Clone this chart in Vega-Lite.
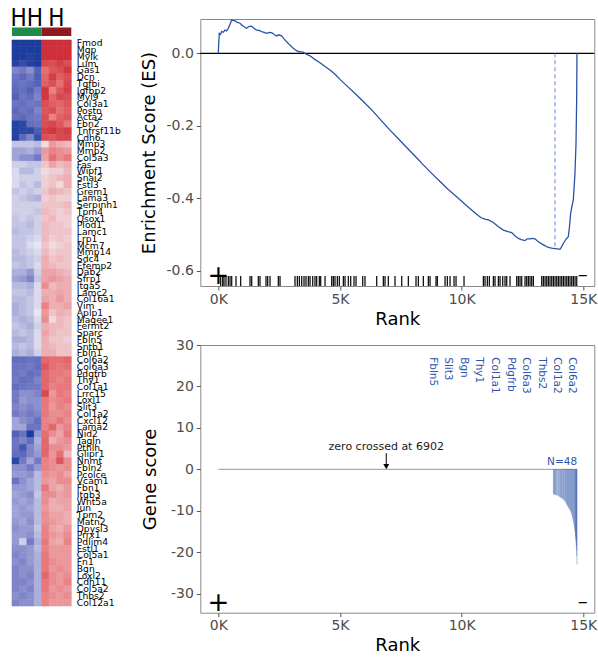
{
"$schema":"https://vega.github.io/schema/vega-lite/v6.json",
"padding":{"left":10,"top":6,"right":2,"bottom":4},
"bounds":"flush",
"spacing":188.3,
"config":{"font":"DejaVu Sans","axis":{"labelFont":"DejaVu Sans","titleFont":"DejaVu Sans","labelFontSize":14,"titleFontSize":18,"titleFontWeight":"normal","labelColor":"#4d4d4d","titleColor":"#000","tickColor":"#555","tickSize":4,"domain":false,"grid":false,"labelPadding":3},"view":{"stroke":"#8a8a8a"}},
"hconcat":[
{"vconcat":[
{"width":59.3,"height":17,"view":{"stroke":null},
"data":{"values":[{"grp":"HH","col":"g"},{"grp":"H","col":"r"}]},
"layer":[
{"mark":{"type":"rect"},"encoding":{"x":{"field":"grp","type":"nominal","scale":{"domain":["HH","H"],"paddingInner":0,"paddingOuter":0},"axis":null},"y":{"datum":"b","type":"nominal","scale":{"domain":["t","b"],"paddingInner":0,"paddingOuter":0},"axis":null},"color":{"field":"col","type":"nominal","scale":{"domain":["g","r"],"range":["#1f8a4a","#8c1a1e"]},"legend":null}}},
{"mark":{"type":"text","baseline":"alphabetic","fontSize":24,"font":"Liberation Sans Narrow, DejaVu Sans Condensed, sans-serif","dy":-2,"color":"#000"},"encoding":{"x":{"field":"grp","type":"nominal"},"y":{"datum":"b","type":"nominal","bandPosition":0},"text":{"field":"grp"}}}
]},
{"width":59.3,"height":566,"view":{"stroke":null},
"data":{"values":[
{"g":"Fmod","c":1,"v":-2.2},{"g":"Fmod","c":2,"v":-2.2},{"g":"Fmod","c":3,"v":-2.2},{"g":"Fmod","c":4,"v":-2.2},{"g":"Fmod","c":5,"v":2.0},{"g":"Fmod","c":6,"v":2.0},{"g":"Fmod","c":7,"v":2.0},{"g":"Fmod","c":8,"v":2.0},
{"g":"Mgp","c":1,"v":-2.2},{"g":"Mgp","c":2,"v":-2.2},{"g":"Mgp","c":3,"v":-2.2},{"g":"Mgp","c":4,"v":-2.2},{"g":"Mgp","c":5,"v":2.0},{"g":"Mgp","c":6,"v":2.0},{"g":"Mgp","c":7,"v":2.0},{"g":"Mgp","c":8,"v":2.0},
{"g":"Mylk","c":1,"v":-2.2},{"g":"Mylk","c":2,"v":-2.2},{"g":"Mylk","c":3,"v":-2.1},{"g":"Mylk","c":4,"v":-2.2},{"g":"Mylk","c":5,"v":2.0},{"g":"Mylk","c":6,"v":2.0},{"g":"Mylk","c":7,"v":2.0},{"g":"Mylk","c":8,"v":2.0},
{"g":"Lum","c":1,"v":-2.1},{"g":"Lum","c":2,"v":-1.9},{"g":"Lum","c":3,"v":-2.1},{"g":"Lum","c":4,"v":-2.2},{"g":"Lum","c":5,"v":1.7},{"g":"Lum","c":6,"v":1.6},{"g":"Lum","c":7,"v":1.8},{"g":"Lum","c":8,"v":1.6},
{"g":"Gas1","c":1,"v":-1.0},{"g":"Gas1","c":2,"v":-1.1},{"g":"Gas1","c":3,"v":-0.9},{"g":"Gas1","c":4,"v":-1.5},{"g":"Gas1","c":5,"v":1.2},{"g":"Gas1","c":6,"v":1.5},{"g":"Gas1","c":7,"v":1.6},{"g":"Gas1","c":8,"v":1.9},
{"g":"Dcn","c":1,"v":-1.2},{"g":"Dcn","c":2,"v":-1.4},{"g":"Dcn","c":3,"v":-1.1},{"g":"Dcn","c":4,"v":-1.6},{"g":"Dcn","c":5,"v":1.3},{"g":"Dcn","c":6,"v":1.8},{"g":"Dcn","c":7,"v":1.4},{"g":"Dcn","c":8,"v":1.6},
{"g":"Tgfbi","c":1,"v":-1.3},{"g":"Tgfbi","c":2,"v":-1.2},{"g":"Tgfbi","c":3,"v":-1.3},{"g":"Tgfbi","c":4,"v":-1.5},{"g":"Tgfbi","c":5,"v":1.4},{"g":"Tgfbi","c":6,"v":1.6},{"g":"Tgfbi","c":7,"v":1.2},{"g":"Tgfbi","c":8,"v":1.7},
{"g":"Igfbp2","c":1,"v":-1.4},{"g":"Igfbp2","c":2,"v":-1.3},{"g":"Igfbp2","c":3,"v":-1.5},{"g":"Igfbp2","c":4,"v":-1.1},{"g":"Igfbp2","c":5,"v":1.9},{"g":"Igfbp2","c":6,"v":1.0},{"g":"Igfbp2","c":7,"v":1.5},{"g":"Igfbp2","c":8,"v":1.8},
{"g":"Myl9","c":1,"v":-1.5},{"g":"Myl9","c":2,"v":-1.2},{"g":"Myl9","c":3,"v":-1.3},{"g":"Myl9","c":4,"v":-1.0},{"g":"Myl9","c":5,"v":1.9},{"g":"Myl9","c":6,"v":1.3},{"g":"Myl9","c":7,"v":1.7},{"g":"Myl9","c":8,"v":1.6},
{"g":"Col3a1","c":1,"v":-1.2},{"g":"Col3a1","c":2,"v":-1.3},{"g":"Col3a1","c":3,"v":-1.1},{"g":"Col3a1","c":4,"v":-1.2},{"g":"Col3a1","c":5,"v":1.6},{"g":"Col3a1","c":6,"v":1.4},{"g":"Col3a1","c":7,"v":1.3},{"g":"Col3a1","c":8,"v":1.5},
{"g":"Postn","c":1,"v":-1.4},{"g":"Postn","c":2,"v":-1.2},{"g":"Postn","c":3,"v":-1.3},{"g":"Postn","c":4,"v":-1.0},{"g":"Postn","c":5,"v":1.5},{"g":"Postn","c":6,"v":1.6},{"g":"Postn","c":7,"v":1.2},{"g":"Postn","c":8,"v":1.4},
{"g":"Acta2","c":1,"v":-1.3},{"g":"Acta2","c":2,"v":-1.4},{"g":"Acta2","c":3,"v":-1.2},{"g":"Acta2","c":4,"v":-1.1},{"g":"Acta2","c":5,"v":1.6},{"g":"Acta2","c":6,"v":1.0},{"g":"Acta2","c":7,"v":1.4},{"g":"Acta2","c":8,"v":1.5},
{"g":"Fbn2","c":1,"v":-2.1},{"g":"Fbn2","c":2,"v":-2.0},{"g":"Fbn2","c":3,"v":-1.3},{"g":"Fbn2","c":4,"v":-1.2},{"g":"Fbn2","c":5,"v":1.6},{"g":"Fbn2","c":6,"v":1.7},{"g":"Fbn2","c":7,"v":1.5},{"g":"Fbn2","c":8,"v":1.1},
{"g":"Tnfrsf11b","c":1,"v":-2.1},{"g":"Tnfrsf11b","c":2,"v":-2.0},{"g":"Tnfrsf11b","c":3,"v":-2.0},{"g":"Tnfrsf11b","c":4,"v":-1.6},{"g":"Tnfrsf11b","c":5,"v":1.8},{"g":"Tnfrsf11b","c":6,"v":1.9},{"g":"Tnfrsf11b","c":7,"v":1.7},{"g":"Tnfrsf11b","c":8,"v":1.8},
{"g":"Cdh6","c":1,"v":-2.1},{"g":"Cdh6","c":2,"v":-1.4},{"g":"Cdh6","c":3,"v":-1.0},{"g":"Cdh6","c":4,"v":-1.9},{"g":"Cdh6","c":5,"v":1.6},{"g":"Cdh6","c":6,"v":1.5},{"g":"Cdh6","c":7,"v":1.7},{"g":"Cdh6","c":8,"v":1.7},
{"g":"Mmp3","c":1,"v":-0.4},{"g":"Mmp3","c":2,"v":-0.4},{"g":"Mmp3","c":3,"v":-0.4},{"g":"Mmp3","c":4,"v":-0.5},{"g":"Mmp3","c":5,"v":0.2},{"g":"Mmp3","c":6,"v":0.8},{"g":"Mmp3","c":7,"v":0.6},{"g":"Mmp3","c":8,"v":0.5},
{"g":"Mmp2","c":1,"v":-0.7},{"g":"Mmp2","c":2,"v":-0.7},{"g":"Mmp2","c":3,"v":-0.6},{"g":"Mmp2","c":4,"v":-0.8},{"g":"Mmp2","c":5,"v":0.8},{"g":"Mmp2","c":6,"v":1.0},{"g":"Mmp2","c":7,"v":0.9},{"g":"Mmp2","c":8,"v":0.8},
{"g":"Col5a3","c":1,"v":-0.7},{"g":"Col5a3","c":2,"v":-0.9},{"g":"Col5a3","c":3,"v":-0.9},{"g":"Col5a3","c":4,"v":-1.1},{"g":"Col5a3","c":5,"v":0.7},{"g":"Col5a3","c":6,"v":1.2},{"g":"Col5a3","c":7,"v":0.9},{"g":"Col5a3","c":8,"v":1.1},
{"g":"Fas","c":1,"v":-0.3},{"g":"Fas","c":2,"v":-0.3},{"g":"Fas","c":3,"v":-0.4},{"g":"Fas","c":4,"v":-0.4},{"g":"Fas","c":5,"v":0.4},{"g":"Fas","c":6,"v":0.7},{"g":"Fas","c":7,"v":0.5},{"g":"Fas","c":8,"v":0.6},
{"g":"Wipf1","c":1,"v":-0.2},{"g":"Wipf1","c":2,"v":-0.5},{"g":"Wipf1","c":3,"v":-0.5},{"g":"Wipf1","c":4,"v":-0.3},{"g":"Wipf1","c":5,"v":0.2},{"g":"Wipf1","c":6,"v":0.3},{"g":"Wipf1","c":7,"v":0.3},{"g":"Wipf1","c":8,"v":0.5},
{"g":"Snai2","c":1,"v":-0.2},{"g":"Snai2","c":2,"v":-0.3},{"g":"Snai2","c":3,"v":-0.3},{"g":"Snai2","c":4,"v":-0.3},{"g":"Snai2","c":5,"v":0.3},{"g":"Snai2","c":6,"v":0.4},{"g":"Snai2","c":7,"v":0.5},{"g":"Snai2","c":8,"v":0.6},
{"g":"Fstl3","c":1,"v":-0.2},{"g":"Fstl3","c":2,"v":-0.4},{"g":"Fstl3","c":3,"v":-0.3},{"g":"Fstl3","c":4,"v":-0.5},{"g":"Fstl3","c":5,"v":0.3},{"g":"Fstl3","c":6,"v":0.4},{"g":"Fstl3","c":7,"v":0.2},{"g":"Fstl3","c":8,"v":0.6},
{"g":"Grem1","c":1,"v":-0.4},{"g":"Grem1","c":2,"v":-0.3},{"g":"Grem1","c":3,"v":-0.4},{"g":"Grem1","c":4,"v":-0.3},{"g":"Grem1","c":5,"v":0.4},{"g":"Grem1","c":6,"v":0.6},{"g":"Grem1","c":7,"v":0.5},{"g":"Grem1","c":8,"v":0.4},
{"g":"Lama3","c":1,"v":-0.3},{"g":"Lama3","c":2,"v":-0.4},{"g":"Lama3","c":3,"v":-0.5},{"g":"Lama3","c":4,"v":-0.6},{"g":"Lama3","c":5,"v":0.3},{"g":"Lama3","c":6,"v":0.4},{"g":"Lama3","c":7,"v":0.3},{"g":"Lama3","c":8,"v":0.3},
{"g":"Serpinh1","c":1,"v":-0.3},{"g":"Serpinh1","c":2,"v":-0.3},{"g":"Serpinh1","c":3,"v":-0.3},{"g":"Serpinh1","c":4,"v":-0.3},{"g":"Serpinh1","c":5,"v":0.4},{"g":"Serpinh1","c":6,"v":0.4},{"g":"Serpinh1","c":7,"v":0.4},{"g":"Serpinh1","c":8,"v":0.5},
{"g":"Tpm4","c":1,"v":-0.3},{"g":"Tpm4","c":2,"v":-0.3},{"g":"Tpm4","c":3,"v":-0.3},{"g":"Tpm4","c":4,"v":-0.4},{"g":"Tpm4","c":5,"v":0.5},{"g":"Tpm4","c":6,"v":0.4},{"g":"Tpm4","c":7,"v":0.3},{"g":"Tpm4","c":8,"v":0.4},
{"g":"Qsox1","c":1,"v":-0.4},{"g":"Qsox1","c":2,"v":-0.3},{"g":"Qsox1","c":3,"v":-0.4},{"g":"Qsox1","c":4,"v":-0.3},{"g":"Qsox1","c":5,"v":0.4},{"g":"Qsox1","c":6,"v":0.5},{"g":"Qsox1","c":7,"v":0.3},{"g":"Qsox1","c":8,"v":0.3},
{"g":"Plod1","c":1,"v":-0.4},{"g":"Plod1","c":2,"v":-0.4},{"g":"Plod1","c":3,"v":-0.5},{"g":"Plod1","c":4,"v":-0.3},{"g":"Plod1","c":5,"v":0.5},{"g":"Plod1","c":6,"v":0.4},{"g":"Plod1","c":7,"v":0.4},{"g":"Plod1","c":8,"v":0.3},
{"g":"Lamc1","c":1,"v":-0.5},{"g":"Lamc1","c":2,"v":-0.4},{"g":"Lamc1","c":3,"v":-0.4},{"g":"Lamc1","c":4,"v":-0.3},{"g":"Lamc1","c":5,"v":0.5},{"g":"Lamc1","c":6,"v":0.4},{"g":"Lamc1","c":7,"v":0.4},{"g":"Lamc1","c":8,"v":0.4},
{"g":"Lrp1","c":1,"v":-0.4},{"g":"Lrp1","c":2,"v":-0.4},{"g":"Lrp1","c":3,"v":-0.3},{"g":"Lrp1","c":4,"v":-0.2},{"g":"Lrp1","c":5,"v":0.5},{"g":"Lrp1","c":6,"v":0.3},{"g":"Lrp1","c":7,"v":0.4},{"g":"Lrp1","c":8,"v":0.3},
{"g":"Mcm7","c":1,"v":-0.4},{"g":"Mcm7","c":2,"v":-0.4},{"g":"Mcm7","c":3,"v":-0.2},{"g":"Mcm7","c":4,"v":-0.1},{"g":"Mcm7","c":5,"v":0.4},{"g":"Mcm7","c":6,"v":0.2},{"g":"Mcm7","c":7,"v":0.3},{"g":"Mcm7","c":8,"v":0.4},
{"g":"Mmp14","c":1,"v":-0.5},{"g":"Mmp14","c":2,"v":-0.4},{"g":"Mmp14","c":3,"v":-0.3},{"g":"Mmp14","c":4,"v":-0.2},{"g":"Mmp14","c":5,"v":0.5},{"g":"Mmp14","c":6,"v":0.3},{"g":"Mmp14","c":7,"v":0.4},{"g":"Mmp14","c":8,"v":0.4},
{"g":"Sdc4","c":1,"v":-0.5},{"g":"Sdc4","c":2,"v":-0.5},{"g":"Sdc4","c":3,"v":-0.4},{"g":"Sdc4","c":4,"v":-0.3},{"g":"Sdc4","c":5,"v":0.6},{"g":"Sdc4","c":6,"v":0.4},{"g":"Sdc4","c":7,"v":0.5},{"g":"Sdc4","c":8,"v":0.4},
{"g":"Efemp2","c":1,"v":-0.4},{"g":"Efemp2","c":2,"v":-0.5},{"g":"Efemp2","c":3,"v":-0.4},{"g":"Efemp2","c":4,"v":-0.2},{"g":"Efemp2","c":5,"v":0.6},{"g":"Efemp2","c":6,"v":0.5},{"g":"Efemp2","c":7,"v":0.4},{"g":"Efemp2","c":8,"v":0.4},
{"g":"Dab2","c":1,"v":-0.6},{"g":"Dab2","c":2,"v":-0.6},{"g":"Dab2","c":3,"v":-0.8},{"g":"Dab2","c":4,"v":-0.3},{"g":"Dab2","c":5,"v":0.7},{"g":"Dab2","c":6,"v":0.7},{"g":"Dab2","c":7,"v":0.6},{"g":"Dab2","c":8,"v":0.5},
{"g":"Sfrp1","c":1,"v":-0.7},{"g":"Sfrp1","c":2,"v":-0.8},{"g":"Sfrp1","c":3,"v":-1.0},{"g":"Sfrp1","c":4,"v":-0.4},{"g":"Sfrp1","c":5,"v":0.7},{"g":"Sfrp1","c":6,"v":0.8},{"g":"Sfrp1","c":7,"v":0.7},{"g":"Sfrp1","c":8,"v":0.6},
{"g":"Itga5","c":1,"v":-0.5},{"g":"Itga5","c":2,"v":-0.5},{"g":"Itga5","c":3,"v":-0.6},{"g":"Itga5","c":4,"v":-0.2},{"g":"Itga5","c":5,"v":0.9},{"g":"Itga5","c":6,"v":0.5},{"g":"Itga5","c":7,"v":0.6},{"g":"Itga5","c":8,"v":0.6},
{"g":"Lamc2","c":1,"v":-0.4},{"g":"Lamc2","c":2,"v":-0.4},{"g":"Lamc2","c":3,"v":-0.5},{"g":"Lamc2","c":4,"v":-0.2},{"g":"Lamc2","c":5,"v":0.6},{"g":"Lamc2","c":6,"v":0.6},{"g":"Lamc2","c":7,"v":0.7},{"g":"Lamc2","c":8,"v":0.6},
{"g":"Col16a1","c":1,"v":-0.5},{"g":"Col16a1","c":2,"v":-0.5},{"g":"Col16a1","c":3,"v":-0.4},{"g":"Col16a1","c":4,"v":-0.2},{"g":"Col16a1","c":5,"v":0.7},{"g":"Col16a1","c":6,"v":0.6},{"g":"Col16a1","c":7,"v":0.8},{"g":"Col16a1","c":8,"v":0.6},
{"g":"Vim","c":1,"v":-0.6},{"g":"Vim","c":2,"v":-0.5},{"g":"Vim","c":3,"v":-0.4},{"g":"Vim","c":4,"v":-0.2},{"g":"Vim","c":5,"v":1.0},{"g":"Vim","c":6,"v":0.6},{"g":"Vim","c":7,"v":0.6},{"g":"Vim","c":8,"v":0.7},
{"g":"Aplp1","c":1,"v":-0.6},{"g":"Aplp1","c":2,"v":-0.5},{"g":"Aplp1","c":3,"v":-0.4},{"g":"Aplp1","c":4,"v":-0.1},{"g":"Aplp1","c":5,"v":0.8},{"g":"Aplp1","c":6,"v":0.4},{"g":"Aplp1","c":7,"v":0.6},{"g":"Aplp1","c":8,"v":0.5},
{"g":"Magee1","c":1,"v":-0.5},{"g":"Magee1","c":2,"v":-0.6},{"g":"Magee1","c":3,"v":-0.5},{"g":"Magee1","c":4,"v":-0.2},{"g":"Magee1","c":5,"v":0.9},{"g":"Magee1","c":6,"v":0.2},{"g":"Magee1","c":7,"v":0.5},{"g":"Magee1","c":8,"v":0.4},
{"g":"Fermt2","c":1,"v":-0.4},{"g":"Fermt2","c":2,"v":-0.5},{"g":"Fermt2","c":3,"v":-0.6},{"g":"Fermt2","c":4,"v":-0.3},{"g":"Fermt2","c":5,"v":0.6},{"g":"Fermt2","c":6,"v":0.5},{"g":"Fermt2","c":7,"v":0.5},{"g":"Fermt2","c":8,"v":0.4},
{"g":"Sparc","c":1,"v":-0.5},{"g":"Sparc","c":2,"v":-0.4},{"g":"Sparc","c":3,"v":-0.5},{"g":"Sparc","c":4,"v":-0.2},{"g":"Sparc","c":5,"v":0.7},{"g":"Sparc","c":6,"v":0.5},{"g":"Sparc","c":7,"v":0.4},{"g":"Sparc","c":8,"v":0.4},
{"g":"Fbln5","c":1,"v":-0.6},{"g":"Fbln5","c":2,"v":-0.6},{"g":"Fbln5","c":3,"v":-0.5},{"g":"Fbln5","c":4,"v":-0.2},{"g":"Fbln5","c":5,"v":0.6},{"g":"Fbln5","c":6,"v":0.4},{"g":"Fbln5","c":7,"v":0.4},{"g":"Fbln5","c":8,"v":0.3},
{"g":"Sntb1","c":1,"v":-0.5},{"g":"Sntb1","c":2,"v":-0.4},{"g":"Sntb1","c":3,"v":-0.5},{"g":"Sntb1","c":4,"v":-0.2},{"g":"Sntb1","c":5,"v":0.6},{"g":"Sntb1","c":6,"v":0.5},{"g":"Sntb1","c":7,"v":0.4},{"g":"Sntb1","c":8,"v":0.4},
{"g":"Fbln1","c":1,"v":-0.6},{"g":"Fbln1","c":2,"v":-0.5},{"g":"Fbln1","c":3,"v":-0.6},{"g":"Fbln1","c":4,"v":-0.3},{"g":"Fbln1","c":5,"v":0.6},{"g":"Fbln1","c":6,"v":0.6},{"g":"Fbln1","c":7,"v":0.4},{"g":"Fbln1","c":8,"v":0.4},
{"g":"Col6a2","c":1,"v":-1.3},{"g":"Col6a2","c":2,"v":-1.3},{"g":"Col6a2","c":3,"v":-1.2},{"g":"Col6a2","c":4,"v":-1.3},{"g":"Col6a2","c":5,"v":1.3},{"g":"Col6a2","c":6,"v":1.2},{"g":"Col6a2","c":7,"v":1.2},{"g":"Col6a2","c":8,"v":1.3},
{"g":"Col6a3","c":1,"v":-1.2},{"g":"Col6a3","c":2,"v":-1.2},{"g":"Col6a3","c":3,"v":-1.1},{"g":"Col6a3","c":4,"v":-1.3},{"g":"Col6a3","c":5,"v":1.5},{"g":"Col6a3","c":6,"v":1.2},{"g":"Col6a3","c":7,"v":1.1},{"g":"Col6a3","c":8,"v":1.2},
{"g":"Pdgfrb","c":1,"v":-1.2},{"g":"Pdgfrb","c":2,"v":-1.1},{"g":"Pdgfrb","c":3,"v":-1.3},{"g":"Pdgfrb","c":4,"v":-1.2},{"g":"Pdgfrb","c":5,"v":1.3},{"g":"Pdgfrb","c":6,"v":1.1},{"g":"Pdgfrb","c":7,"v":1.1},{"g":"Pdgfrb","c":8,"v":1.0},
{"g":"Thy1","c":1,"v":-1.1},{"g":"Thy1","c":2,"v":-1.3},{"g":"Thy1","c":3,"v":-1.2},{"g":"Thy1","c":4,"v":-1.0},{"g":"Thy1","c":5,"v":1.3},{"g":"Thy1","c":6,"v":1.1},{"g":"Thy1","c":7,"v":1.0},{"g":"Thy1","c":8,"v":1.1},
{"g":"Col1a1","c":1,"v":-1.3},{"g":"Col1a1","c":2,"v":-1.2},{"g":"Col1a1","c":3,"v":-1.1},{"g":"Col1a1","c":4,"v":-1.1},{"g":"Col1a1","c":5,"v":1.3},{"g":"Col1a1","c":6,"v":1.0},{"g":"Col1a1","c":7,"v":1.1},{"g":"Col1a1","c":8,"v":1.1},
{"g":"Lrrc15","c":1,"v":-1.1},{"g":"Lrrc15","c":2,"v":-0.9},{"g":"Lrrc15","c":3,"v":-0.9},{"g":"Lrrc15","c":4,"v":-1.0},{"g":"Lrrc15","c":5,"v":1.7},{"g":"Lrrc15","c":6,"v":0.8},{"g":"Lrrc15","c":7,"v":1.1},{"g":"Lrrc15","c":8,"v":1.0},
{"g":"Loxl1","c":1,"v":-1.1},{"g":"Loxl1","c":2,"v":-0.8},{"g":"Loxl1","c":3,"v":-0.9},{"g":"Loxl1","c":4,"v":-0.9},{"g":"Loxl1","c":5,"v":1.1},{"g":"Loxl1","c":6,"v":0.9},{"g":"Loxl1","c":7,"v":1.0},{"g":"Loxl1","c":8,"v":1.1},
{"g":"Slit3","c":1,"v":-1.0},{"g":"Slit3","c":2,"v":-0.9},{"g":"Slit3","c":3,"v":-1.0},{"g":"Slit3","c":4,"v":-0.9},{"g":"Slit3","c":5,"v":1.1},{"g":"Slit3","c":6,"v":0.8},{"g":"Slit3","c":7,"v":1.0},{"g":"Slit3","c":8,"v":0.9},
{"g":"Col1a2","c":1,"v":-1.1},{"g":"Col1a2","c":2,"v":-1.0},{"g":"Col1a2","c":3,"v":-1.1},{"g":"Col1a2","c":4,"v":-1.0},{"g":"Col1a2","c":5,"v":1.1},{"g":"Col1a2","c":6,"v":0.9},{"g":"Col1a2","c":7,"v":0.9},{"g":"Col1a2","c":8,"v":1.0},
{"g":"Cxcl12","c":1,"v":-0.7},{"g":"Cxcl12","c":2,"v":-0.9},{"g":"Cxcl12","c":3,"v":-1.0},{"g":"Cxcl12","c":4,"v":-1.3},{"g":"Cxcl12","c":5,"v":1.0},{"g":"Cxcl12","c":6,"v":0.9},{"g":"Cxcl12","c":7,"v":1.1},{"g":"Cxcl12","c":8,"v":0.9},
{"g":"Lama2","c":1,"v":-0.7},{"g":"Lama2","c":2,"v":-0.7},{"g":"Lama2","c":3,"v":-1.2},{"g":"Lama2","c":4,"v":-1.2},{"g":"Lama2","c":5,"v":1.0},{"g":"Lama2","c":6,"v":1.3},{"g":"Lama2","c":7,"v":0.8},{"g":"Lama2","c":8,"v":1.0},
{"g":"Nid2","c":1,"v":-1.5},{"g":"Nid2","c":2,"v":-1.2},{"g":"Nid2","c":3,"v":-2.2},{"g":"Nid2","c":4,"v":-0.8},{"g":"Nid2","c":5,"v":1.2},{"g":"Nid2","c":6,"v":0.9},{"g":"Nid2","c":7,"v":0.7},{"g":"Nid2","c":8,"v":1.1},
{"g":"Tagln","c":1,"v":-1.2},{"g":"Tagln","c":2,"v":-1.0},{"g":"Tagln","c":3,"v":-1.3},{"g":"Tagln","c":4,"v":-0.6},{"g":"Tagln","c":5,"v":1.3},{"g":"Tagln","c":6,"v":0.6},{"g":"Tagln","c":7,"v":0.8},{"g":"Tagln","c":8,"v":0.9},
{"g":"Pthlh","c":1,"v":-1.2},{"g":"Pthlh","c":2,"v":-1.7},{"g":"Pthlh","c":3,"v":-1.0},{"g":"Pthlh","c":4,"v":-0.7},{"g":"Pthlh","c":5,"v":1.3},{"g":"Pthlh","c":6,"v":0.9},{"g":"Pthlh","c":7,"v":0.9},{"g":"Pthlh","c":8,"v":0.8},
{"g":"Glipr1","c":1,"v":-1.3},{"g":"Glipr1","c":2,"v":-1.4},{"g":"Glipr1","c":3,"v":-1.0},{"g":"Glipr1","c":4,"v":-0.8},{"g":"Glipr1","c":5,"v":1.3},{"g":"Glipr1","c":6,"v":0.8},{"g":"Glipr1","c":7,"v":1.2},{"g":"Glipr1","c":8,"v":0.5},
{"g":"Nnmt","c":1,"v":-2.0},{"g":"Nnmt","c":2,"v":-1.1},{"g":"Nnmt","c":3,"v":-0.7},{"g":"Nnmt","c":4,"v":-1.1},{"g":"Nnmt","c":5,"v":1.0},{"g":"Nnmt","c":6,"v":0.9},{"g":"Nnmt","c":7,"v":1.5},{"g":"Nnmt","c":8,"v":0.9},
{"g":"Fbln2","c":1,"v":-0.9},{"g":"Fbln2","c":2,"v":-0.9},{"g":"Fbln2","c":3,"v":-1.1},{"g":"Fbln2","c":4,"v":-0.8},{"g":"Fbln2","c":5,"v":1.0},{"g":"Fbln2","c":6,"v":0.9},{"g":"Fbln2","c":7,"v":0.8},{"g":"Fbln2","c":8,"v":0.9},
{"g":"Pcolce","c":1,"v":-0.8},{"g":"Pcolce","c":2,"v":-0.8},{"g":"Pcolce","c":3,"v":-0.9},{"g":"Pcolce","c":4,"v":-0.5},{"g":"Pcolce","c":5,"v":0.9},{"g":"Pcolce","c":6,"v":0.8},{"g":"Pcolce","c":7,"v":0.9},{"g":"Pcolce","c":8,"v":0.7},
{"g":"Vcam1","c":1,"v":-1.2},{"g":"Vcam1","c":2,"v":-0.9},{"g":"Vcam1","c":3,"v":-0.7},{"g":"Vcam1","c":4,"v":-0.5},{"g":"Vcam1","c":5,"v":0.8},{"g":"Vcam1","c":6,"v":0.7},{"g":"Vcam1","c":7,"v":0.9},{"g":"Vcam1","c":8,"v":0.9},
{"g":"Fbn1","c":1,"v":-0.8},{"g":"Fbn1","c":2,"v":-0.8},{"g":"Fbn1","c":3,"v":-0.7},{"g":"Fbn1","c":4,"v":-0.5},{"g":"Fbn1","c":5,"v":1.1},{"g":"Fbn1","c":6,"v":0.7},{"g":"Fbn1","c":7,"v":0.6},{"g":"Fbn1","c":8,"v":0.8},
{"g":"Itgb3","c":1,"v":-0.7},{"g":"Itgb3","c":2,"v":-0.8},{"g":"Itgb3","c":3,"v":-0.9},{"g":"Itgb3","c":4,"v":-0.4},{"g":"Itgb3","c":5,"v":0.9},{"g":"Itgb3","c":6,"v":0.9},{"g":"Itgb3","c":7,"v":0.7},{"g":"Itgb3","c":8,"v":0.8},
{"g":"Wnt5a","c":1,"v":-0.8},{"g":"Wnt5a","c":2,"v":-0.7},{"g":"Wnt5a","c":3,"v":-0.8},{"g":"Wnt5a","c":4,"v":-0.5},{"g":"Wnt5a","c":5,"v":0.9},{"g":"Wnt5a","c":6,"v":0.6},{"g":"Wnt5a","c":7,"v":0.7},{"g":"Wnt5a","c":8,"v":0.7},
{"g":"Jun","c":1,"v":-0.7},{"g":"Jun","c":2,"v":-0.8},{"g":"Jun","c":3,"v":-0.7},{"g":"Jun","c":4,"v":-0.5},{"g":"Jun","c":5,"v":0.8},{"g":"Jun","c":6,"v":0.6},{"g":"Jun","c":7,"v":0.6},{"g":"Jun","c":8,"v":0.7},
{"g":"Tpm2","c":1,"v":-0.7},{"g":"Tpm2","c":2,"v":-0.8},{"g":"Tpm2","c":3,"v":-0.8},{"g":"Tpm2","c":4,"v":-0.5},{"g":"Tpm2","c":5,"v":0.9},{"g":"Tpm2","c":6,"v":0.7},{"g":"Tpm2","c":7,"v":0.7},{"g":"Tpm2","c":8,"v":0.6},
{"g":"Matn2","c":1,"v":-0.8},{"g":"Matn2","c":2,"v":-0.7},{"g":"Matn2","c":3,"v":-0.9},{"g":"Matn2","c":4,"v":-0.5},{"g":"Matn2","c":5,"v":0.9},{"g":"Matn2","c":6,"v":0.8},{"g":"Matn2","c":7,"v":0.7},{"g":"Matn2","c":8,"v":0.6},
{"g":"Dpysl3","c":1,"v":-0.9},{"g":"Dpysl3","c":2,"v":-0.8},{"g":"Dpysl3","c":3,"v":-0.8},{"g":"Dpysl3","c":4,"v":-0.4},{"g":"Dpysl3","c":5,"v":1.0},{"g":"Dpysl3","c":6,"v":0.7},{"g":"Dpysl3","c":7,"v":0.6},{"g":"Dpysl3","c":8,"v":0.8},
{"g":"Prrx1","c":1,"v":-0.8},{"g":"Prrx1","c":2,"v":-0.8},{"g":"Prrx1","c":3,"v":-0.9},{"g":"Prrx1","c":4,"v":-0.5},{"g":"Prrx1","c":5,"v":1.0},{"g":"Prrx1","c":6,"v":0.8},{"g":"Prrx1","c":7,"v":0.7},{"g":"Prrx1","c":8,"v":0.9},
{"g":"Pdlim4","c":1,"v":-0.8},{"g":"Pdlim4","c":2,"v":-0.3},{"g":"Pdlim4","c":3,"v":-1.1},{"g":"Pdlim4","c":4,"v":-0.6},{"g":"Pdlim4","c":5,"v":1.1},{"g":"Pdlim4","c":6,"v":0.7},{"g":"Pdlim4","c":7,"v":0.6},{"g":"Pdlim4","c":8,"v":1.0},
{"g":"Fstl1","c":1,"v":-0.9},{"g":"Fstl1","c":2,"v":-0.9},{"g":"Fstl1","c":3,"v":-0.8},{"g":"Fstl1","c":4,"v":-0.5},{"g":"Fstl1","c":5,"v":1.0},{"g":"Fstl1","c":6,"v":0.8},{"g":"Fstl1","c":7,"v":0.8},{"g":"Fstl1","c":8,"v":0.8},
{"g":"Col5a1","c":1,"v":-1.0},{"g":"Col5a1","c":2,"v":-0.9},{"g":"Col5a1","c":3,"v":-0.8},{"g":"Col5a1","c":4,"v":-0.6},{"g":"Col5a1","c":5,"v":1.1},{"g":"Col5a1","c":6,"v":0.8},{"g":"Col5a1","c":7,"v":0.8},{"g":"Col5a1","c":8,"v":0.8},
{"g":"Fn1","c":1,"v":-0.9},{"g":"Fn1","c":2,"v":-1.0},{"g":"Fn1","c":3,"v":-0.8},{"g":"Fn1","c":4,"v":-0.6},{"g":"Fn1","c":5,"v":1.1},{"g":"Fn1","c":6,"v":0.9},{"g":"Fn1","c":7,"v":0.8},{"g":"Fn1","c":8,"v":0.8},
{"g":"Bgn","c":1,"v":-1.0},{"g":"Bgn","c":2,"v":-0.9},{"g":"Bgn","c":3,"v":-0.9},{"g":"Bgn","c":4,"v":-0.6},{"g":"Bgn","c":5,"v":1.1},{"g":"Bgn","c":6,"v":0.8},{"g":"Bgn","c":7,"v":0.9},{"g":"Bgn","c":8,"v":0.8},
{"g":"Loxl2","c":1,"v":-1.0},{"g":"Loxl2","c":2,"v":-0.9},{"g":"Loxl2","c":3,"v":-1.0},{"g":"Loxl2","c":4,"v":-0.6},{"g":"Loxl2","c":5,"v":1.3},{"g":"Loxl2","c":6,"v":0.9},{"g":"Loxl2","c":7,"v":0.8},{"g":"Loxl2","c":8,"v":0.9},
{"g":"Cdh11","c":1,"v":-1.0},{"g":"Cdh11","c":2,"v":-1.0},{"g":"Cdh11","c":3,"v":-0.9},{"g":"Cdh11","c":4,"v":-0.6},{"g":"Cdh11","c":5,"v":1.1},{"g":"Cdh11","c":6,"v":0.9},{"g":"Cdh11","c":7,"v":0.8},{"g":"Cdh11","c":8,"v":1.0},
{"g":"Col5a2","c":1,"v":-1.0},{"g":"Col5a2","c":2,"v":-0.9},{"g":"Col5a2","c":3,"v":-1.0},{"g":"Col5a2","c":4,"v":-0.6},{"g":"Col5a2","c":5,"v":1.1},{"g":"Col5a2","c":6,"v":0.8},{"g":"Col5a2","c":7,"v":0.9},{"g":"Col5a2","c":8,"v":0.8},
{"g":"Thbs2","c":1,"v":-0.9},{"g":"Thbs2","c":2,"v":-1.0},{"g":"Thbs2","c":3,"v":-0.9},{"g":"Thbs2","c":4,"v":-0.6},{"g":"Thbs2","c":5,"v":1.0},{"g":"Thbs2","c":6,"v":0.9},{"g":"Thbs2","c":7,"v":0.8},{"g":"Thbs2","c":8,"v":0.9},
{"g":"Col12a1","c":1,"v":-1.0},{"g":"Col12a1","c":2,"v":-0.9},{"g":"Col12a1","c":3,"v":-0.9},{"g":"Col12a1","c":4,"v":-0.6},{"g":"Col12a1","c":5,"v":1.0},{"g":"Col12a1","c":6,"v":0.8},{"g":"Col12a1","c":7,"v":0.8},{"g":"Col12a1","c":8,"v":0.8}
]},
"mark":{"type":"rect","strokeWidth":0.6},
"encoding":{
"x":{"field":"c","type":"nominal","scale":{"domain":[1,2,3,4,5,6,7,8],"paddingInner":0,"paddingOuter":0},"axis":null},
"y":{"field":"g","type":"nominal","sort":null,"scale":{"paddingInner":0,"paddingOuter":0},"axis":{"orient":"right","ticks":false,"domain":false,"labelFontSize":9.2,"labelPadding":5,"labelColor":"#000","labelOverlap":false,"labelBound":false,"labelLimit":0,"title":null}},
"color":{"field":"v","type":"quantitative","scale":{"domain":[-2.2,-1.1,0,1.1,2.2],"range":["#1c3d9e","#7379c4","#f2f0f6","#e7777a","#c91f2a"],"interpolate":"rgb"},"legend":null},
"stroke":{"field":"v","type":"quantitative","scale":{"domain":[-2.2,-1.1,0,1.1,2.2],"range":["#1c3d9e","#7379c4","#f2f0f6","#e7777a","#c91f2a"],"interpolate":"rgb"},"legend":null}
}}
],"spacing":4,"bounds":"flush","resolve":{"scale":{"color":"independent"}}},
{"vconcat":[
{"width":394,"height":267,
"layer":[
{"data":{"values":[{}]},"mark":{"type":"rule","color":"#000","strokeWidth":1.3},"encoding":{"y":{"datum":0,"type":"quantitative"}}},
{"data":{"values":[{"r":13837,"a":0,"b":-0.539}]},"mark":{"type":"rule","color":"#5f86d9","strokeWidth":1,"strokeDash":[4,3]},"encoding":{"x":{"field":"r","type":"quantitative"},"y":{"field":"a","type":"quantitative"},"y2":{"field":"b"}}},
{"data":{"values":[{"r":0,"es":0},{"r":20,"es":0.03},{"r":41,"es":0.055},{"r":90,"es":0.052},{"r":137,"es":0.06},{"r":200,"es":0.058},{"r":274,"es":0.064},{"r":340,"es":0.062},{"r":411,"es":0.069},{"r":470,"es":0.078},{"r":548,"es":0.092},{"r":610,"es":0.09},{"r":685,"es":0.09},{"r":760,"es":0.086},{"r":890,"es":0.083},{"r":960,"es":0.078},{"r":1050,"es":0.074},{"r":1165,"es":0.069},{"r":1250,"es":0.074},{"r":1370,"es":0.075},{"r":1450,"es":0.07},{"r":1575,"es":0.064},{"r":1680,"es":0.063},{"r":1781,"es":0.06},{"r":1880,"es":0.058},{"r":1986,"es":0.055},{"r":2100,"es":0.058},{"r":2192,"es":0.057},{"r":2300,"es":0.052},{"r":2397,"es":0.048},{"r":2480,"es":0.051},{"r":2603,"es":0.048},{"r":2700,"es":0.04},{"r":2808,"es":0.032},{"r":2950,"es":0.022},{"r":3082,"es":0.014},{"r":3200,"es":0.008},{"r":3288,"es":0.005},{"r":3400,"es":0.004},{"r":3493,"es":0.003},{"r":3600,"es":-0.002},{"r":3767,"es":-0.007},{"r":3950,"es":-0.016},{"r":4178,"es":-0.026},{"r":4400,"es":-0.037},{"r":4589,"es":-0.046},{"r":4800,"es":-0.058},{"r":5000,"es":-0.072},{"r":5350,"es":-0.094},{"r":5685,"es":-0.115},{"r":6000,"es":-0.136},{"r":6370,"es":-0.161},{"r":6700,"es":-0.186},{"r":7055,"es":-0.212},{"r":7400,"es":-0.236},{"r":7740,"es":-0.26},{"r":8100,"es":-0.285},{"r":8425,"es":-0.308},{"r":8780,"es":-0.332},{"r":9110,"es":-0.354},{"r":9450,"es":-0.376},{"r":9795,"es":-0.396},{"r":10206,"es":-0.421},{"r":10617,"es":-0.444},{"r":10800,"es":-0.454},{"r":10960,"es":-0.458},{"r":11100,"es":-0.46},{"r":11302,"es":-0.467},{"r":11500,"es":-0.478},{"r":11713,"es":-0.488},{"r":11900,"es":-0.492},{"r":12056,"es":-0.495},{"r":12200,"es":-0.504},{"r":12330,"es":-0.511},{"r":12450,"es":-0.514},{"r":12604,"es":-0.517},{"r":12700,"es":-0.512},{"r":12809,"es":-0.512},{"r":12900,"es":-0.511},{"r":13015,"es":-0.512},{"r":13150,"es":-0.52},{"r":13289,"es":-0.526},{"r":13420,"es":-0.531},{"r":13563,"es":-0.536},{"r":13700,"es":-0.538},{"r":13837,"es":-0.539},{"r":13950,"es":-0.54},{"r":14042,"es":-0.541},{"r":14100,"es":-0.535},{"r":14179,"es":-0.525},{"r":14280,"es":-0.514},{"r":14384,"es":-0.506},{"r":14430,"es":-0.48},{"r":14480,"es":-0.442},{"r":14540,"es":-0.42},{"r":14590,"es":-0.405},{"r":14658,"es":-0.331},{"r":14700,"es":-0.25},{"r":14727,"es":-0.129},{"r":14740,"es":0}]},
"mark":{"type":"line","color":"#2a52a8","strokeWidth":1.3},
"encoding":{"x":{"field":"r","type":"quantitative","scale":{"domain":[-740,15452],"nice":false,"zero":false},"axis":{"values":[0,5000,10000,15000],"labelExpr":"datum.value/1000 + 'K'","title":"Rank","titlePadding":4,"labelPadding":2}},
"y":{"field":"es","type":"quantitative","scale":{"domain":[-0.6423,0.0947],"nice":false,"zero":false},"axis":{"values":[0,-0.2,-0.4,-0.6],"labelExpr":"(datum.value < 0 ? '-' : '') + format(abs(datum.value), '.1f')","title":"Enrichment Score (ES)","titlePadding":7}}}},
{"data":{"values":[{"r":98},{"r":180},{"r":234},{"r":316},{"r":411},{"r":481},{"r":551},{"r":727},{"r":920},{"r":1303},{"r":1372},{"r":1644},{"r":1714},{"r":1960},{"r":2030},{"r":2125},{"r":2466},{"r":2536},{"r":3152},{"r":3248},{"r":3330},{"r":3428},{"r":3522},{"r":3604},{"r":3699},{"r":3769},{"r":3880},{"r":3974},{"r":4044},{"r":4151},{"r":4209},{"r":4386},{"r":4661},{"r":4727},{"r":4796},{"r":4891},{"r":4973},{"r":5138},{"r":5208},{"r":5343},{"r":5442},{"r":5577},{"r":5660},{"r":5935},{"r":6029},{"r":6510},{"r":6782},{"r":6851},{"r":6987},{"r":7262},{"r":7538},{"r":7809},{"r":8125},{"r":8220},{"r":8426},{"r":8631},{"r":8701},{"r":8947},{"r":9001},{"r":9318},{"r":9412},{"r":9523},{"r":9687},{"r":9770},{"r":10098},{"r":10892},{"r":10961},{"r":11056},{"r":11138},{"r":11303},{"r":11372},{"r":11508},{"r":11578},{"r":11689},{"r":11783},{"r":11853},{"r":11989},{"r":12264},{"r":12330},{"r":12400},{"r":12470},{"r":12605},{"r":12675},{"r":12741},{"r":12811},{"r":12881},{"r":12947},{"r":13292},{"r":13358},{"r":13428},{"r":13497},{"r":13563},{"r":13633},{"r":13703},{"r":13769},{"r":13839},{"r":13909},{"r":13974},{"r":14044},{"r":14114},{"r":14180},{"r":14250},{"r":14320},{"r":14386},{"r":14455},{"r":14525},{"r":14591},{"r":14661},{"r":14731}]},
"mark":{"type":"rule","color":"#000","strokeWidth":1.2},"encoding":{"x":{"field":"r","type":"quantitative"},"y":{"datum":-0.6423,"type":"quantitative"},"y2":{"datum":-0.615}}},
{"data":{"values":[{"r":0,"es":-0.612,"s":"+"}]},"mark":{"type":"text","fontSize":26,"baseline":"middle","align":"center","color":"#000","dy":1},"encoding":{"x":{"field":"r","type":"quantitative"},"y":{"field":"es","type":"quantitative"},"text":{"field":"s"}}},
{"data":{"values":[{"r":14977,"es":-0.612,"s":"–"}]},"mark":{"type":"text","fontSize":20,"baseline":"middle","align":"center","color":"#000"},"encoding":{"x":{"field":"r","type":"quantitative"},"y":{"field":"es","type":"quantitative"},"text":{"field":"s"}}}
]},
{"width":394,"height":267.7,
"layer":[
{"data":{"values":[{"r":0,"r2":14740,"s":0}]},"mark":{"type":"rule","color":"#9a9a9a","strokeWidth":1},
"encoding":{"x":{"field":"r","type":"quantitative","scale":{"domain":[-740,15452],"nice":false,"zero":false},"axis":{"values":[0,5000,10000,15000],"labelExpr":"datum.value/1000 + 'K'","title":"Rank","titlePadding":4,"labelPadding":2}},"x2":{"field":"r2"},
"y":{"field":"s","type":"quantitative","scale":{"domain":[-34.6,30],"nice":false,"zero":false},"axis":{"values":[30,20,10,0,-10,-20,-30],"labelExpr":"(datum.value < 0 ? '-' : '') + abs(datum.value)","title":"Gene score","titlePadding":11}}}},
{"data":{"values":[{"r":13770,"s":-6.0},{"r":13790,"s":-6.0},{"r":13810,"s":-6.1},{"r":13830,"s":-6.1},{"r":13850,"s":-6.2},{"r":13870,"s":-6.2},{"r":13900,"s":-6.3},{"r":13930,"s":-6.3},{"r":13960,"s":-6.4},{"r":13990,"s":-6.5},{"r":14010,"s":-6.6},{"r":14040,"s":-6.7},{"r":14060,"s":-6.8},{"r":14090,"s":-6.9},{"r":14110,"s":-7.0},{"r":14130,"s":-7.1},{"r":14160,"s":-7.2},{"r":14180,"s":-7.3},{"r":14200,"s":-7.4},{"r":14230,"s":-7.6},{"r":14250,"s":-7.8},{"r":14270,"s":-8.0},{"r":14300,"s":-8.3},{"r":14320,"s":-8.5},{"r":14340,"s":-8.7},{"r":14360,"s":-8.9},{"r":14380,"s":-9.1},{"r":14400,"s":-9.3},{"r":14420,"s":-9.5},{"r":14440,"s":-9.7},{"r":14460,"s":-9.9},{"r":14480,"s":-10.2},{"r":14500,"s":-10.5},{"r":14520,"s":-10.9},{"r":14540,"s":-11.3},{"r":14560,"s":-11.8},{"r":14580,"s":-12.4},{"r":14600,"s":-13.0},{"r":14620,"s":-13.7},{"r":14640,"s":-14.5},{"r":14660,"s":-15.3},{"r":14680,"s":-16.2},{"r":14690,"s":-17.0},{"r":14700,"s":-17.5},{"r":14710,"s":-18.5},{"r":14720,"s":-19.5},{"r":14730,"s":-21.0},{"r":14740,"s":-23.0}]},
"mark":{"type":"rule","color":"#2a52a8","strokeWidth":0.8,"opacity":0.45},"encoding":{"x":{"field":"r","type":"quantitative"},"y":{"field":"s","type":"quantitative"},"y2":{"datum":0}}},
{"data":{"values":[{"r":8837,"g":"Fbln5"},{"r":9453,"g":"Slit3"},{"r":10097,"g":"Bgn"},{"r":10727,"g":"Thy1"},{"r":11371,"g":"Col1a1"},{"r":12015,"g":"Pdgfrb"},{"r":12645,"g":"Col6a3"},{"r":13289,"g":"Thbs2"},{"r":13905,"g":"Col1a2"},{"r":14549,"g":"Col6a2"}]},
"mark":{"type":"text","angle":90,"align":"left","baseline":"middle","fontSize":10.5,"color":"#2f55ad"},"encoding":{"x":{"field":"r","type":"quantitative"},"y":{"datum":27.05,"type":"quantitative"},"text":{"field":"g"}}},
{"data":{"values":[{"r":6902,"s":5.3,"t":"zero crossed at 6902"}]},"mark":{"type":"text","fontSize":11,"baseline":"middle","align":"center","color":"#1a1a1a"},"encoding":{"x":{"field":"r","type":"quantitative"},"y":{"field":"s","type":"quantitative"},"text":{"field":"t"}}},
{"data":{"values":[{"r":6902,"a":3.9,"b":1.0}]},"mark":{"type":"rule","color":"#000","strokeWidth":1},"encoding":{"x":{"field":"r","type":"quantitative"},"y":{"field":"a","type":"quantitative"},"y2":{"field":"b"}}},
{"data":{"values":[{"r":6902,"s":0.65}]},"mark":{"type":"point","shape":"triangle-down","filled":true,"color":"#000","size":35,"opacity":1},"encoding":{"x":{"field":"r","type":"quantitative"},"y":{"field":"s","type":"quantitative"}}},
{"data":{"values":[{"r":14745,"s":1.85,"t":"N=48"}]},"mark":{"type":"text","fontSize":10.5,"baseline":"middle","align":"right","color":"#2f55ad"},"encoding":{"x":{"field":"r","type":"quantitative"},"y":{"field":"s","type":"quantitative"},"text":{"field":"t"}}},
{"data":{"values":[{"r":0,"s":-31.96,"t":"+"}]},"mark":{"type":"text","fontSize":26,"baseline":"middle","align":"center","color":"#000","dy":1},"encoding":{"x":{"field":"r","type":"quantitative"},"y":{"field":"s","type":"quantitative"},"text":{"field":"t"}}},
{"data":{"values":[{"r":14977,"s":-31.96,"t":"–"}]},"mark":{"type":"text","fontSize":20,"baseline":"middle","align":"center","color":"#000"},"encoding":{"x":{"field":"r","type":"quantitative"},"y":{"field":"s","type":"quantitative"},"text":{"field":"t"}}}
]}
],"spacing":59,"bounds":"flush"}
]
}
